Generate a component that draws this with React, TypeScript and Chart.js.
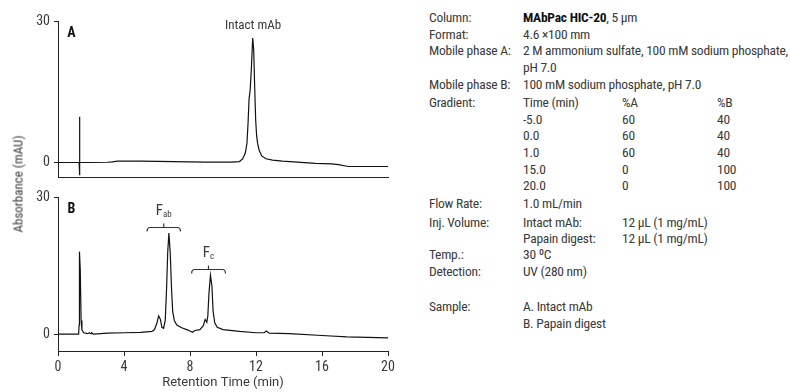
import React, { useEffect, useRef } from 'react';
import { Chart, registerables } from 'chart.js';
Chart.register(...registerables);

// ---- Data ----
const timeA = [0, 1.2, 1.28, 1.3, 1.31, 1.33, 2.0, 3.0, 3.3, 3.6, 5.0, 7.0, 9.0, 10.5, 11.0, 11.2, 11.35, 11.45, 11.52, 11.58, 11.65, 11.72, 11.8, 11.86, 11.92, 11.98, 12.04, 12.1, 12.2, 12.35, 12.6, 13.0, 13.6, 14.5, 15.6, 16.6, 17.0, 17.6, 20.0];
const absA = [0, 0, 0, 9.7, -2.7, 0, 0, 0.05, 0.15, 0.3, 0.3, 0.2, 0.1, 0.1, 0.2, 0.8, 2.0, 4.0, 8.5, 13.5, 15.5, 20, 26.4, 24, 16, 9, 5.6, 4.0, 2.5, 1.4, 0.8, 0.5, 0.3, 0.1, -0.2, -0.3, -0.45, -0.85, -0.85];

const timeB = [0, 1.25, 1.28, 1.3, 1.35, 1.4, 1.45, 1.55, 1.8, 1.9, 2.0, 2.05, 2.15, 3.0, 4.0, 5.0, 5.7, 5.85, 6.0, 6.1, 6.2, 6.3, 6.4, 6.5, 6.58, 6.65, 6.72, 6.8, 6.88, 6.95, 7.05, 7.2, 7.5, 7.8, 8.0, 8.15, 8.3, 8.6, 8.8, 8.92, 9.02, 9.08, 9.15, 9.24, 9.33, 9.4, 9.5, 9.65, 10.0, 11.0, 12.0, 12.5, 12.62, 12.8, 14.0, 16.0, 17.5, 20.0];
const absB = [0, 0, 2, 18.1, 14, 3, 1.0, 0.3, 0.1, 0.3, 0.1, 0.3, 0.0, 0.2, 0.3, 0.4, 0.6, 1.0, 2.5, 4.0, 3.3, 1.5, 1.3, 3, 10, 18, 22.2, 18, 10, 5, 3, 2.0, 1.4, 1.0, 0.7, 0.4, 0.8, 1.0, 1.8, 3.2, 2.6, 4, 9, 12.9, 10.5, 5, 2.5, 1.5, 1.0, 0.6, 0.3, 0.3, 0.7, 0.2, 0.1, -0.3, -0.6, -0.8];

const xTickValues = [0, 4, 8, 12, 16, 20];
const yTickValues = [0, 30];
const xRange = [0, 20];
const yRangeA = [-3.2, 30];
const yRangeB = [-3.7, 30];

const panelLabels = ['A', 'B'];
const peakLabelA = { text: 'Intact mAb', x: 11.82, y: 28.9 };
const bracketsB = [
  { from: 5.4, to: 7.42, center: 6.41, y: 23.5, labelY: 27.0, main: 'F', sub: 'ab' },
  { from: 8.1, to: 10.15, center: 9.12, y: 14.3, labelY: 17.8, main: 'F', sub: 'c' },
];

const FONT = 'Roboto, "Liberation Sans", sans-serif';
const STRETCH = 'condensed';
const TEXT = '#3a3a3a';
const AXIS = '#222';

function setFont(ctx: any, css: string) {
  ctx.font = css;
  try {
    ctx.fontStretch = STRETCH;
  } catch (e) {}
}

const annotPlugin = {
  id: 'annot',
  beforeDraw(chart: any) {
    try {
      chart.ctx.fontStretch = STRETCH;
    } catch (e) {}
  },
  afterDatasetsDraw(chart: any, _args: any, opts: any) {
    const { ctx } = chart;
    const x = chart.scales.x;
    const y = chart.scales.y;
    ctx.save();
    ctx.textBaseline = 'middle';
    for (const t of opts.texts || []) {
      setFont(ctx, t.font);
      ctx.fillStyle = t.color || TEXT;
      ctx.textAlign = 'center';
      ctx.fillText(t.text, x.getPixelForValue(t.x), y.getPixelForValue(t.y));
    }
    for (const b of opts.brackets || []) {
      const x1 = x.getPixelForValue(b.from);
      const x2 = x.getPixelForValue(b.to);
      const xc = x.getPixelForValue(b.center);
      const yy = Math.round(y.getPixelForValue(b.y)) + 0.5;
      ctx.strokeStyle = '#333';
      ctx.lineWidth = 1.2;
      ctx.beginPath();
      ctx.moveTo(x1, yy + 4);
      ctx.quadraticCurveTo(x1, yy, x1 + 3, yy);
      ctx.lineTo(x2 - 3, yy);
      ctx.quadraticCurveTo(x2, yy, x2, yy + 4);
      ctx.moveTo(xc, yy);
      ctx.lineTo(xc, yy - 4);
      ctx.stroke();
      const ly = y.getPixelForValue(b.labelY);
      setFont(ctx, `15px ${FONT}`);
      const wMain = ctx.measureText(b.main).width;
      setFont(ctx, `9px ${FONT}`);
      const wSub = ctx.measureText(b.sub).width;
      const start = xc - (wMain + wSub) / 2;
      ctx.fillStyle = TEXT;
      ctx.textAlign = 'left';
      setFont(ctx, `15px ${FONT}`);
      ctx.fillText(b.main, start, ly);
      setFont(ctx, `9px ${FONT}`);
      ctx.fillText(b.sub, start + wMain, ly + 4);
    }
    ctx.restore();
  },
};

const tickFont = { family: FONT, size: 14 };
const titleFont = { family: FONT, size: 13 };

function makeConfig(times: number[], values: number[], yRange: number[], showX: boolean, annot: any, padding: any) {
  return {
    type: 'scatter' as const,
    data: {
      datasets: [
        {
          data: times.map((t, i) => ({ x: t, y: values[i] })),
          showLine: true,
          borderColor: '#111',
          borderWidth: 1.2,
          pointRadius: 0,
          tension: 0,
          fill: false,
        },
      ],
    },
    options: {
      animation: false,
      responsive: false,
      maintainAspectRatio: false,
      events: [],
      layout: { padding },
      plugins: { legend: { display: false }, tooltip: { enabled: false }, annot },
      scales: {
        x: {
          type: 'linear',
          min: xRange[0],
          max: xRange[1],
          afterBuildTicks: (s: any) => {
            s.ticks = xTickValues.map((v) => ({ value: v }));
          },
          ticks: {
            display: showX,
            font: tickFont,
            color: TEXT,
            padding: 3,
            maxRotation: 0,
          },
          grid: { display: showX, drawOnChartArea: false, tickLength: 5, color: AXIS, lineWidth: 1 },
          border: { display: true, color: AXIS, width: 1 },
          title: {
            display: showX,
            text: 'Retention Time (min)',
            font: titleFont,
            color: TEXT,
            padding: { top: 1, bottom: 1 },
          },
          afterFit: (s: any) => {
            s.height = showX ? 41 : 0;
          },
        },
        y: {
          type: 'linear',
          min: yRange[0],
          max: yRange[1],
          afterBuildTicks: (s: any) => {
            s.ticks = yTickValues.map((v) => ({ value: v }));
          },
          ticks: { font: tickFont, color: TEXT, padding: 4 },
          grid: { drawOnChartArea: false, tickLength: 4, color: AXIS, lineWidth: 1 },
          border: { display: true, color: AXIS, width: 1 },
          afterFit: (s: any) => {
            s.width = 58;
          },
        },
      },
    },
    plugins: [annotPlugin],
  };
}

function ChartCanvas({ cfg, style, width, height }: any) {
  const ref = useRef<HTMLCanvasElement | null>(null);
  useEffect(() => {
    if (!ref.current) return;
    const chart = new Chart(ref.current, cfg);
    return () => chart.destroy();
  }, []);
  return <canvas ref={ref} width={width} height={height} style={{ position: 'absolute', width, height, ...style }} />;
}

const infoRows: { y: number; cols: { x: number; text: string; bold?: string }[] }[] = [
  { y: 17, cols: [{ x: 429, text: 'Column:' }, { x: 523, text: ', 5 µm', bold: 'MAbPac HIC-20' }] },
  { y: 34, cols: [{ x: 429, text: 'Format:' }, { x: 523, text: '4.6 ×100 mm' }] },
  { y: 50, cols: [{ x: 429, text: 'Mobile phase A:' }, { x: 523, text: '2 M ammonium sulfate, 100 mM sodium phosphate,' }] },
  { y: 67, cols: [{ x: 523, text: 'pH 7.0' }] },
  { y: 84, cols: [{ x: 429, text: 'Mobile phase B:' }, { x: 523, text: '100 mM sodium phosphate, pH 7.0' }] },
  { y: 101.5, cols: [{ x: 429, text: 'Gradient:' }, { x: 523, text: 'Time (min)' }, { x: 622, text: '%A' }, { x: 717, text: '%B' }] },
  { y: 118.5, cols: [{ x: 523, text: '-5.0' }, { x: 622, text: '60' }, { x: 717, text: '40' }] },
  { y: 135, cols: [{ x: 523, text: '0.0' }, { x: 622, text: '60' }, { x: 717, text: '40' }] },
  { y: 152, cols: [{ x: 523, text: '1.0' }, { x: 622, text: '60' }, { x: 717, text: '40' }] },
  { y: 168.5, cols: [{ x: 523, text: '15.0' }, { x: 622, text: '0' }, { x: 717, text: '100' }] },
  { y: 185, cols: [{ x: 523, text: '20.0' }, { x: 622, text: '0' }, { x: 717, text: '100' }] },
  { y: 203, cols: [{ x: 429, text: 'Flow Rate:' }, { x: 523, text: '1.0 mL/min' }] },
  { y: 221.5, cols: [{ x: 429, text: 'Inj. Volume:' }, { x: 523, text: 'Intact mAb:' }, { x: 622, text: '12 µL (1 mg/mL)' }] },
  { y: 237.5, cols: [{ x: 523, text: 'Papain digest:' }, { x: 622, text: '12 µL (1 mg/mL)' }] },
  { y: 254, cols: [{ x: 429, text: 'Temp.:' }, { x: 523, text: '30 ºC' }] },
  { y: 271, cols: [{ x: 429, text: 'Detection:' }, { x: 523, text: 'UV (280 nm)' }] },
  { y: 306, cols: [{ x: 429, text: 'Sample:' }, { x: 523, text: 'A. Intact mAb' }] },
  { y: 322.5, cols: [{ x: 523, text: 'B. Papain digest' }] },
];

export default function App() {
  const cfgA = makeConfig(
    timeA,
    absA,
    yRangeA,
    false,
    {
      texts: [
        { text: panelLabels[0], x: 0.82, y: 27.3, font: `bold 14px ${FONT}`, color: '#111' },
        { text: peakLabelA.text, x: peakLabelA.x, y: peakLabelA.y, font: `13px ${FONT}` },
      ],
    },
    { top: 21, right: 12, left: 0, bottom: 12 }
  );
  const cfgB = makeConfig(
    timeB,
    absB,
    yRangeB,
    true,
    {
      texts: [{ text: panelLabels[1], x: 0.82, y: 27.4, font: `bold 14px ${FONT}`, color: '#111' }],
      brackets: bracketsB,
    },
    { top: 10, right: 12, left: 0, bottom: 0 }
  );
  const textStyle = {
    fontFamily: FONT,
    fontStretch: STRETCH,
    fontSize: 13.5,
    letterSpacing: '-0.25px',
    color: TEXT,
    whiteSpace: 'nowrap' as const,
  };
  return (
    <div style={{ position: 'fixed', left: 0, top: 0, width: 790, height: 392, background: '#fff', overflow: 'hidden' }}>
      <ChartCanvas cfg={cfgA} width={400} height={190} style={{ left: 0, top: 0 }} />
      <ChartCanvas cfg={cfgB} width={400} height={207} style={{ left: 0, top: 185 }} />
      <div
        style={{
          position: 'absolute',
          left: 18,
          top: 184,
          transform: 'translate(-50%, -50%) rotate(-90deg)',
          ...textStyle,
          fontSize: 13,
          letterSpacing: '0px',
        }}
      >
        Absorbance (mAU)
      </div>
      {infoRows.map((row, i) =>
        row.cols.map((c, j) => (
          <div
            key={`${i}-${j}`}
            style={{
              position: 'absolute',
              left: c.x,
              top: row.y - 8,
              height: 16,
              lineHeight: '16px',
              ...textStyle,
            }}
          >
            {c.bold ? <b style={{ color: '#111' }}>{c.bold}</b> : null}
            {c.text}
          </div>
        ))
      )}
    </div>
  );
}
